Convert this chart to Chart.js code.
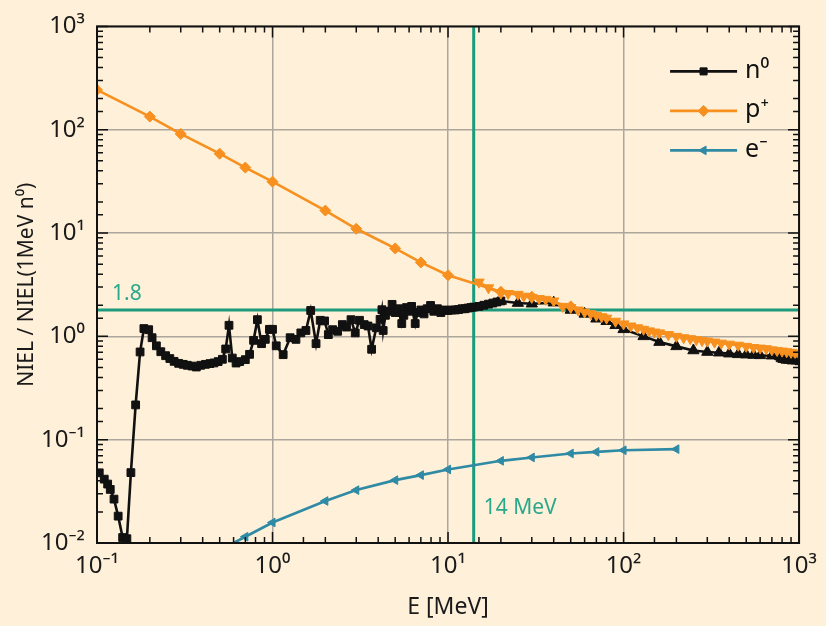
<!DOCTYPE html>
<html>
<head>
<meta charset="utf-8">
<script src="https://cdn.jsdelivr.net/npm/chart.js@4.4.1/dist/chart.umd.min.js"></script>
<style>
  html, body { margin: 0; padding: 0; background: #fef0d9; }
  #wrap { width: 826px; height: 626px; }
</style>
</head>
<body>
<div id="wrap"><canvas id="niel" width="826" height="626"></canvas></div>
<script>
// n0, 0.1 - 20 MeV (squares)
const nEnergy = [0.103, 0.11, 0.115, 0.119, 0.125, 0.132, 0.14, 0.148, 0.156,
  0.166, 0.176, 0.185, 0.197, 0.206, 0.218, 0.231, 0.246, 0.26, 0.275,
  0.292, 0.31, 0.327, 0.348, 0.368, 0.39, 0.415, 0.44, 0.464, 0.49,
  0.518, 0.541, 0.565, 0.59, 0.62, 0.65, 0.7, 0.74, 0.78, 0.82,
  0.866, 0.91, 0.96, 1.0, 1.05, 1.15, 1.26, 1.36, 1.45, 1.55,
  1.65, 1.77, 1.87, 1.98, 2.08, 2.2, 2.35, 2.5, 2.64, 2.8,
  2.96, 3.13, 3.33, 3.5, 3.67, 3.9, 4.1, 4.2, 4.27, 4.4,
  4.6, 4.8, 5.0, 5.2, 5.45, 5.6, 5.8, 6.0, 6.2, 6.5,
  6.7, 7.0, 7.3, 7.6, 7.95, 8.3, 8.7, 9.1, 9.5, 10,
  10.5, 11, 11.5, 12, 12.5, 13, 13.5, 14, 15, 16,
  17, 18, 19, 20];
const nValue = [0.0478, 0.0415, 0.0372, 0.033, 0.0266, 0.0182, 0.0113, 0.011, 0.048,
  0.217, 0.706, 1.19, 1.16, 0.97, 0.81, 0.71, 0.65, 0.61, 0.573,
  0.548, 0.536, 0.525, 0.516, 0.505, 0.525, 0.536, 0.545, 0.553, 0.57,
  0.6, 0.755, 1.28, 0.617, 0.552, 0.57, 0.595, 0.67, 0.915, 1.45,
  0.85, 0.935, 1.17, 1.17, 0.81, 0.665, 0.97, 0.935, 1.08, 1.14,
  1.78, 0.85, 1.43, 1.41, 1.04, 1.16, 1.12, 1.3, 1.23, 1.45,
  1.08, 1.43, 1.3, 1.26, 0.75, 1.21, 1.46, 1.81, 1.14, 1.6,
  1.75, 2.04, 1.7, 1.85, 1.33, 1.6, 1.9, 1.75, 1.95, 1.33,
  1.7, 1.8, 1.65, 1.85, 1.99, 1.75, 1.85, 1.7, 1.8, 1.78,
  1.8, 1.8, 1.82, 1.85, 1.85, 1.88, 1.9, 1.92, 1.95, 2.0,
  2.05, 2.1, 2.15, 2.2];

// n0 above 20 MeV (triangles) and the tail near 1 GeV
const nHighEnergy = [20, 25, 30, 40, 50, 60, 70, 80, 90, 100, 130, 160, 200, 250, 300, 350, 400, 450, 500, 550, 600, 700, 780];
const nHighValue = [2.2, 2.1, 2.07, 2.12, 1.8, 1.65, 1.48, 1.4, 1.28, 1.17, 1.0, 0.88, 0.8, 0.73, 0.705, 0.695, 0.68, 0.67, 0.665, 0.66, 0.655, 0.65, 0.64];
const nTailEnergy = [780, 800, 830, 860, 900, 950, 1000];
const nTailValue = [0.62, 0.61, 0.6, 0.6, 0.59, 0.59, 0.58];

// p+ (diamonds) and the dense high-energy set (down triangles)
const pEnergy = [0.1, 0.2, 0.3, 0.5, 0.7, 1, 2, 3, 5, 7, 10, 20, 30, 50];
const pValue = [243, 134, 91, 58.6, 43, 31.4, 16.5, 11, 7.1, 5.2, 3.9, 2.7, 2.42, 1.95];
const pHighEnergy = [15, 17, 20, 22, 25, 27, 30, 33, 36, 40, 45, 50, 55, 60, 65, 70, 75, 80, 90,
  100, 110, 120, 130, 140, 150, 160, 180, 200, 220, 240, 260, 280, 300, 330, 360,
  400, 450, 500, 550, 600, 650, 700, 750, 800, 850, 900, 950, 1000];
const pHighValue = [3.35, 2.95, 2.62, 2.6, 2.55, 2.45, 2.38, 2.32, 2.28, 2.2, 1.95, 1.9, 1.8, 1.72, 1.66, 1.6, 1.55, 1.5, 1.4,
  1.32, 1.26, 1.21, 1.17, 1.13, 1.1, 1.08, 1.04, 1.0, 0.97, 0.95, 0.93, 0.91, 0.9, 0.88, 0.86,
  0.84, 0.82, 0.8, 0.78, 0.77, 0.76, 0.74, 0.73, 0.72, 0.71, 0.7, 0.69, 0.68];

// e-
const eEnergy = [0.5, 0.7, 1, 2, 3, 5, 7, 10, 20, 30, 50, 70, 100, 200];
const eValue = [0.0085, 0.0115, 0.0158, 0.0255, 0.0325, 0.0406, 0.0454, 0.0515, 0.0624, 0.0673, 0.0735, 0.0762, 0.079, 0.081];

// reference lines
const refLevel = 1.8;
const refEnergy = 14;

const xTickMin = 0.1, xTickMax = 1000;
const yTickMin = 0.01, yTickMax = 1000;

const BLACK = '#111111';
const ORANGE = '#f7901e';
const BLUE = '#2f8aa5';
const TEAL = '#1d9a7c';
const TEAL_TEXT = '#2aa88a';
const FONT = '"Noto Sans", "Open Sans", "DejaVu Sans", sans-serif';

const pts = (xs, ys) => xs.map((x, i) => ({ x: x, y: ys[i] }));

const supMap = { '-': '\u207B', '0': '\u2070', '1': '\u00B9', '2': '\u00B2', '3': '\u00B3',
  '4': '\u2074', '5': '\u2075', '6': '\u2076', '7': '\u2077', '8': '\u2078', '9': '\u2079' };
function isDecade(v) {
  const l = Math.log10(v);
  return Math.abs(l - Math.round(l)) < 1e-6;
}
function powLabel(v) {
  if (!isDecade(v)) return '';
  const e = String(Math.round(Math.log10(v)));
  return '10' + e.split('').map(c => supMap[c]).join('');
}

function series(label, xs, ys, color, style, radius, rotation) {
  return {
    label: label,
    data: pts(xs, ys),
    showLine: true,
    borderColor: color,
    backgroundColor: color,
    borderWidth: 2.6,
    pointStyle: style,
    pointRadius: radius,
    pointRotation: rotation || 0,
    pointBorderWidth: 1,
    pointBorderColor: color,
    pointBackgroundColor: color,
    tension: 0
  };
}

const legendItems = [
  { text: 'n\u2070', color: BLACK, style: 'rect', radius: 5, rotation: 0 },
  { text: 'p\u207A', color: ORANGE, style: 'rectRot', radius: 5.5, rotation: 0 },
  { text: 'e\u207B', color: BLUE, style: 'triangle', radius: 5, rotation: -90 }
];

const decor = {
  id: 'decor',
  beforeDraw(chart) {
    const ctx = chart.ctx;
    ctx.save();
    ctx.fillStyle = '#fef0d9';
    ctx.fillRect(0, 0, chart.width, chart.height);
    ctx.restore();
  },
  afterDatasetsDraw(chart) {
    const { ctx, chartArea: a, scales: { x, y } } = chart;
    ctx.save();
    // inward ticks on all four sides
    ctx.strokeStyle = BLACK;
    ctx.lineWidth = 1.5;
    ctx.beginPath();
    x.ticks.forEach(t => {
      const px = x.getPixelForValue(t.value);
      const len = isDecade(t.value) ? 11 : 6;
      ctx.moveTo(px, a.bottom); ctx.lineTo(px, a.bottom - len);
      ctx.moveTo(px, a.top); ctx.lineTo(px, a.top + len);
    });
    y.ticks.forEach(t => {
      const py = y.getPixelForValue(t.value);
      const len = isDecade(t.value) ? 11 : 6;
      ctx.moveTo(a.left, py); ctx.lineTo(a.left + len, py);
      ctx.moveTo(a.right, py); ctx.lineTo(a.right - len, py);
    });
    ctx.stroke();
    ctx.lineWidth = 2;
    ctx.strokeRect(a.left, a.top, a.right - a.left, a.bottom - a.top);

    // reference line labels
    ctx.fillStyle = TEAL_TEXT;
    ctx.font = '21px ' + FONT;
    ctx.textBaseline = 'middle';
    ctx.textAlign = 'left';
    ctx.fillText(String(refLevel), a.left + 15, y.getPixelForValue(refLevel) - 16);
    ctx.fillText(refEnergy + ' MeV', x.getPixelForValue(refEnergy) + 10, a.bottom - 35);

    // legend: line with marker, then label
    ctx.font = '25px ' + FONT;
    legendItems.forEach((it, i) => {
      const ly = a.top + 45 + i * 39.5;
      const x0 = a.right - 129, x1 = a.right - 62;
      ctx.strokeStyle = it.color;
      ctx.lineWidth = 2.6;
      ctx.beginPath();
      ctx.moveTo(x0, ly); ctx.lineTo(x1, ly);
      ctx.stroke();
      ctx.fillStyle = it.color;
      ctx.lineWidth = 1;
      Chart.helpers.drawPoint(ctx, { pointStyle: it.style, radius: it.radius, rotation: it.rotation, borderWidth: 1 }, (x0 + x1) / 2, ly);
      ctx.fillStyle = BLACK;
      ctx.fillText(it.text, x1 + 8, ly - 1);
    });
    ctx.restore();
  }
};

const gridColor = c => (c.tick && isDecade(c.tick.value)) ? '#aca69c' : 'rgba(0,0,0,0)';

new Chart(document.getElementById('niel'), {
  type: 'scatter',
  data: {
    datasets: [
      series('p+ high', pHighEnergy, pHighValue, ORANGE, 'triangle', 6, 180),
      series('p+', pEnergy, pValue, ORANGE, 'rectRot', 5.5),
      series('n0 high', nHighEnergy, nHighValue, BLACK, 'triangle', 6.5),
      series('n0 tail', nTailEnergy, nTailValue, BLACK, 'rect', 5.5),
      series('n0', nEnergy, nValue, BLACK, 'rect', 5.5),
      series('e-', eEnergy, eValue, BLUE, 'triangle', 5, -90),
      Object.assign(series('1.8', [xTickMin, xTickMax], [refLevel, refLevel], TEAL, 'circle', 0), { borderWidth: 3 }),
      Object.assign(series('14 MeV', [refEnergy, refEnergy], [yTickMin, yTickMax], TEAL, 'circle', 0), { borderWidth: 3 })
    ]
  },
  options: {
    responsive: false,
    animation: false,
    layout: { padding: { left: 0, right: 24, top: 25, bottom: 0 } },
    plugins: {
      legend: { display: false },
      tooltip: { enabled: false }
    },
    scales: {
      x: {
        type: 'logarithmic',
        min: xTickMin,
        max: xTickMax,
        afterFit: s => { s.height = 83; },
        border: { display: false },
        grid: { color: gridColor, lineWidth: 1.5, drawTicks: false },
        ticks: {
          autoSkip: false,
          maxRotation: 0,
          padding: 9,
          color: '#1a1a1a',
          font: { family: FONT, size: 24 },
          callback: v => powLabel(v)
        },
        title: {
          display: true,
          text: 'E [MeV]',
          color: '#1a1a1a',
          font: { family: FONT, size: 23 },
          padding: { top: 0, bottom: 5 }
        }
      },
      y: {
        type: 'logarithmic',
        min: yTickMin,
        max: yTickMax,
        afterFit: s => { s.width = 97; },
        border: { display: false },
        grid: { color: gridColor, lineWidth: 1.5, drawTicks: false },
        ticks: {
          autoSkip: false,
          padding: 12,
          color: '#1a1a1a',
          font: { family: FONT, size: 24 },
          callback: v => powLabel(v)
        },
        title: {
          display: true,
          text: 'NIEL / NIEL(1MeV n\u2070)',
          color: '#1a1a1a',
          font: { family: FONT, size: 21 },
          padding: { top: 14, bottom: 0 }
        }
      }
    }
  },
  plugins: [decor]
});
</script>
</body>
</html>
